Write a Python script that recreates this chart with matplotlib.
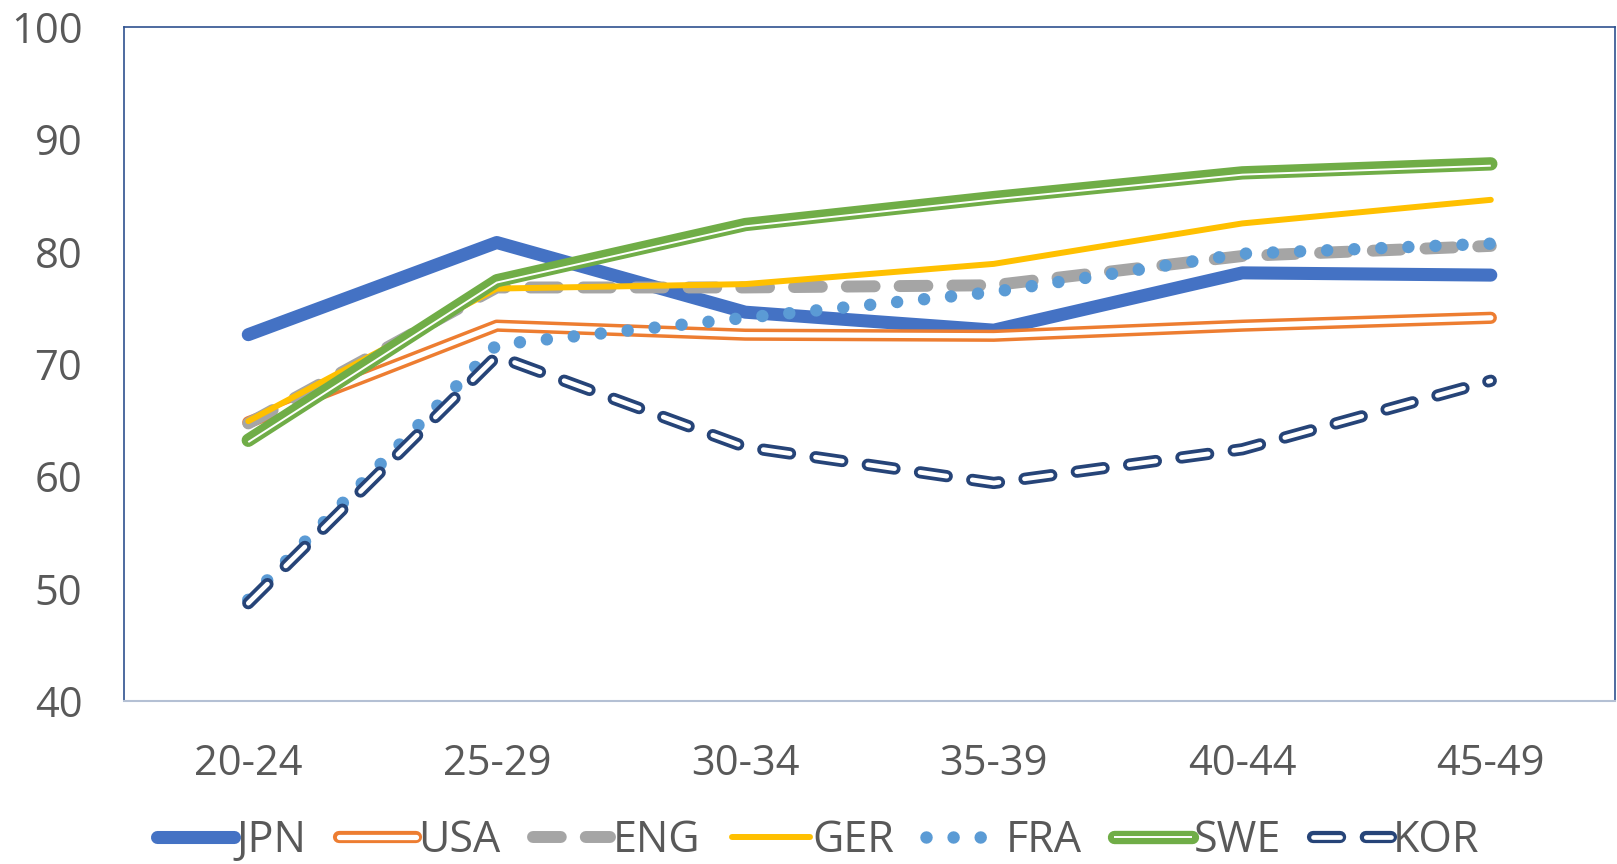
import matplotlib.pyplot as plt
import matplotlib.transforms as mtransforms

plt.rcParams['font.family'] = ['Open Sans', 'DejaVu Sans']
plt.rcParams['lines.scale_dashes'] = False

# age groups and series values
ages = ["20-24", "25-29", "30-34", "35-39", "40-44", "45-49"]
jpn = [72.6, 80.8, 74.6, 73.0, 78.1, 77.9]
usa = [64.8, 73.4, 72.6, 72.5, 73.4, 74.1]
eng = [64.7, 76.8, 76.8, 77.0, 79.6, 80.5]
ger = [64.9, 76.7, 77.1, 78.9, 82.5, 84.6]
fra = [49.0, 71.7, 74.1, 76.4, 79.8, 80.7]
swe = [63.2, 77.4, 82.4, 84.8, 87.0, 87.8]
kor = [48.7, 70.7, 62.6, 59.4, 62.4, 68.5]

fig = plt.figure(figsize=(16.17, 8.64), dpi=100)
ax = fig.add_axes([0.0767, 0.1887, 0.9221, 0.7803])
x = range(len(ages))

h_jpn = ax.plot(x, jpn, color='#4472C4', lw=9.4, solid_capstyle='round')[0]

u1 = ax.plot(x, usa, color='#ED7D31', lw=8.8, solid_capstyle='round')[0]
u2 = ax.plot(x, usa, color='white', lw=3.8, solid_capstyle='round')[0]

h_eng = ax.plot(x, eng, color='#A5A5A5', lw=8.6, dash_capstyle='round',
                linestyle=(0, (20, 18)))[0]

h_ger = ax.plot(x, ger, color='#FFC000', lw=4.3, solid_capstyle='round')[0]

h_fra = ax.plot(x, fra, color='#5B9BD5', lw=9.0, dash_capstyle='round',
                linestyle=(0, (0.01, 19.5)))[0]

s1 = ax.plot(x, swe, color='#70AD47', lw=9.6, solid_capstyle='round')[0]
off = mtransforms.offset_copy(ax.transData, fig=fig, x=0, y=-1.3, units='points')
s2 = ax.plot(x, swe, color='white', lw=1.4, transform=off, solid_capstyle='butt')[0]

k1 = ax.plot(x, kor, color='#264478', lw=8.8, dash_capstyle='round',
             linestyle=(0, (19.5, 18.5)))[0]
k2 = ax.plot(x, kor, color='white', lw=3.4, dash_capstyle='round',
             linestyle=(0, (19.5, 18.5)))[0]

ax.set_xlim(-0.5, 5.5)
ax.set_ylim(40, 100)
ax.set_yticks(range(40, 101, 10))
ax.set_xticks(list(x))
ax.set_xticklabels(ages)
ax.tick_params(length=0, labelsize=30, labelcolor='#595959')
ax.tick_params(axis='y', pad=30)
ax.tick_params(axis='x', pad=30)

for side in ['left', 'top', 'right']:
    ax.spines[side].set_color('#2F528F')
    ax.spines[side].set_linewidth(1.2)
ax.spines['bottom'].set_color('#B4C0D4')
ax.spines['bottom'].set_linewidth(1.5)

handles = [h_jpn, (u1, u2), h_eng, h_ger, h_fra, (s1, s2), (k1, k2)]
labels = ["JPN", "USA", "ENG", "GER", "FRA", "SWE", "KOR"]
fig.legend(handles, labels, loc='center', bbox_to_anchor=(0.506, 0.027), ncol=7,
           frameon=False, fontsize=31, labelcolor='#595959', handlelength=1.8,
           handletextpad=0.05, columnspacing=0.75)

fig.savefig("out.png", dpi=100)
